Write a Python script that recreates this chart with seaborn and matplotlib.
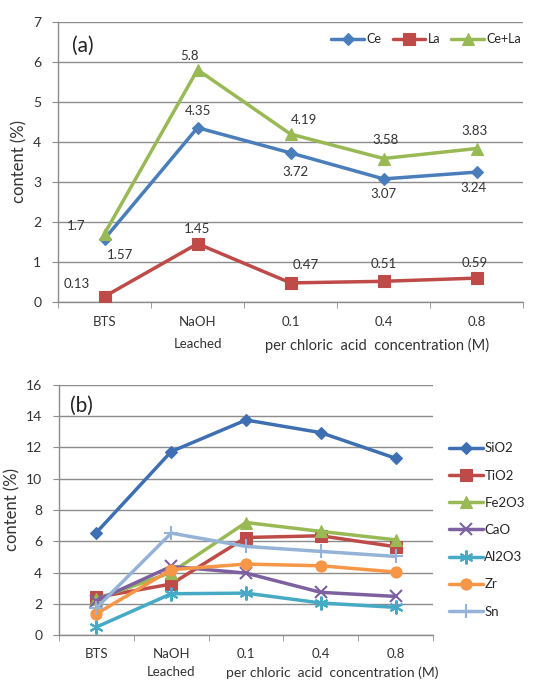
import numpy as np
import pandas as pd
import matplotlib
matplotlib.use("Agg")
import matplotlib.pyplot as plt
import matplotlib.transforms as mtransforms
import seaborn as sns

# ---------------- data ----------------
categories = ["BTS", "NaOH\nLeached", "0.1", "0.4", "0.8"]
xlabel_text = "per chloric  acid  concentration (M)"

ce = [1.57, 4.35, 3.72, 3.07, 3.24]
la = [0.13, 1.45, 0.47, 0.51, 0.59]
ce_la = [1.7, 5.8, 4.19, 3.58, 3.83]

sio2 = [6.56, 11.74, 13.76, 12.95, 11.31]
tio2 = [2.41, 3.26, 6.24, 6.35, 5.65]
fe2o3 = [2.30, 4.00, 7.20, 6.63, 6.09]
cao = [2.20, 4.39, 3.96, 2.73, 2.47]
al2o3 = [0.51, 2.64, 2.68, 2.05, 1.77]
zr = [1.36, 4.18, 4.54, 4.43, 4.03]
sn = [1.73, 6.52, 5.67, 5.35, 5.03]

series_a = {"Ce": ce, "La": la, "Ce+La": ce_la}
series_b = {"SiO2": sio2, "TiO2": tio2, "Fe2O3": fe2o3, "CaO": cao,
            "Al2O3": al2o3, "Zr": zr, "Sn": sn}

# ---------------- style ----------------
sns.set_style("white")
plt.rcParams["font.family"] = ["Lato", "DejaVu Sans"]

colors_a = {"Ce": "#4a7ebb", "La": "#be4b48", "Ce+La": "#98b954"}
markers_a = {"Ce": "D", "La": "s", "Ce+La": "^"}
colors_b = {"SiO2": "#3f6fb3", "TiO2": "#be4b48", "Fe2O3": "#98b954",
            "CaO": "#7d60a0", "Al2O3": "#46aac5", "Zr": "#f79646", "Sn": "#95b3d7"}
markers_b = {"SiO2": "D", "TiO2": "s", "Fe2O3": "^", "CaO": "x",
             "Al2O3": (6, 2, 0), "Zr": "o", "Sn": "+"}
msize_b = {"SiO2": 6, "TiO2": 8, "Fe2O3": 8, "CaO": 9,
           "Al2O3": 10, "Zr": 8, "Sn": 10}
msize_a = {"Ce": 6, "La": 8, "Ce+La": 8}

grid_c = "#8c8c8c"
text_c = "#333333"

def to_long(series):
    rows = []
    for name, vals in series.items():
        for i, v in enumerate(vals):
            rows.append({"x": i, "value": v, "series": name})
    return pd.DataFrame(rows)

fig = plt.figure(figsize=(5.44, 6.82), dpi=100)
ax1 = fig.add_axes([0.1066, 0.5576, 0.855, 0.4106])
ax2 = fig.add_axes([0.1085, 0.0689, 0.6875, 0.3666])

def draw(ax, series, colors, markers, msizes):
    df = to_long(series)
    order = list(series.keys())
    sns.lineplot(data=df, x="x", y="value", hue="series", hue_order=order,
                 palette=colors, linewidth=2.5, legend=False,
                 ax=ax, zorder=3)
    lines = ax.lines[:len(order)]
    for ln, name in zip(lines, order):
        c = colors[name]
        ln.set_marker(markers[name])
        ln.set_markeredgecolor(c)
        ln.set_markerfacecolor(c)
        ln.set_markersize(msizes[name])
        ln.set_markeredgewidth(1.5 if markers[name] in ("x", "+", (6, 2, 0)) else 0.8)
        ln.set_color(c)
    return lines, order

def frame(ax, ymax, ystep, spacing):
    n = len(categories)
    ax.set_xlim(-0.5, n - 0.5)
    ax.set_ylim(0, ymax)
    ax.set_yticks(np.arange(0, ymax + ystep / 2, ystep))
    ax.yaxis.grid(True, color=grid_c, linewidth=1.0)
    ax.set_axisbelow(True)
    for s in ["top", "right"]:
        ax.spines[s].set_visible(False)
    for s in ["left", "bottom"]:
        ax.spines[s].set_color(grid_c)
        ax.spines[s].set_linewidth(1.0)
    ax.set_xticks(np.arange(n))
    ax.set_xticklabels(categories, fontsize=9.5, color=text_c, linespacing=spacing)
    ax.set_xticks(np.arange(n + 1) - 0.5, minor=True)
    ax.tick_params(axis="x", which="major", length=0, pad=10)
    ax.tick_params(axis="x", which="minor", length=4, color=grid_c, direction="out")
    ax.tick_params(axis="y", length=4, color=grid_c, direction="out", pad=8,
                   labelsize=10, labelcolor=text_c)
    ax.tick_params(left=True, bottom=True, which="both")
    ax.set_xlabel("")
    ax.set_ylabel("content (%)", fontsize=12, color=text_c, labelpad=4)
    trans = mtransforms.blended_transform_factory(ax.transData, ax.transAxes)
    return trans

# ---------------- panel (a) ----------------
lines_a, order_a = draw(ax1, series_a, colors_a, markers_a, msize_a)
trans1 = frame(ax1, 7, 1, 2.0)
ax1.text(2.93, -0.155, xlabel_text, transform=trans1, ha="center", va="center",
         fontsize=10.5, color=text_c)
ax1.text(0.03, 0.915, "(a)", transform=ax1.transAxes, fontsize=15, color="#222222",
         va="center", ha="left")
ax1.legend(lines_a, order_a, loc="upper right", bbox_to_anchor=(1.02, 1.0),
           ncol=3, frameon=False, fontsize=9, handlelength=2.6,
           columnspacing=0.9, handletextpad=0.2, borderaxespad=0.5)

# data labels
offsets_a = {
    "Ce": [(15, -16), (0, 17), (5, -19), (0, -15), (-3, -16)],
    "La": [(-28, 13), (0, 15), (15, 18), (0, 17), (-2, 15)],
    "Ce+La": [(-28, 8), (-8, 14), (13, 14), (2, 19), (-2, 18)],
}
for name, vals in series_a.items():
    for i, v in enumerate(vals):
        ax1.annotate(f"{v:g}", xy=(i, v), xytext=offsets_a[name][i],
                     textcoords="offset pixels", ha="center", va="center",
                     fontsize=9.5, color=text_c, zorder=5)

# ---------------- panel (b) ----------------
lines_b, order_b = draw(ax2, series_b, colors_b, markers_b, msize_b)
trans2 = frame(ax2, 16, 2, 1.6)
ax2.text(3.15, -0.152, xlabel_text, transform=trans2, ha="center", va="center",
         fontsize=10, color=text_c)
ax2.text(0.03, 0.915, "(b)", transform=ax2.transAxes, fontsize=15, color="#222222",
         va="center", ha="left")
ax2.tick_params(axis="x", which="major", pad=9)
ax2.legend(lines_b, order_b, loc="center left", bbox_to_anchor=(1.01, 0.42),
           ncol=1, frameon=False, fontsize=9.5, handlelength=2.6,
           labelspacing=1.15, handletextpad=0.1)

fig.savefig("out.png", dpi=100, facecolor="white")
